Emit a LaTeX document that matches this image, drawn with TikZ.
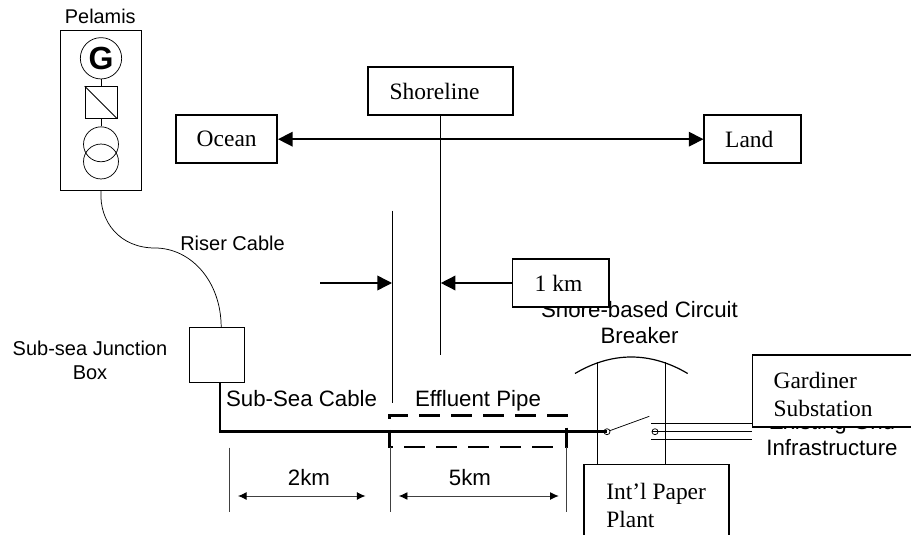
\documentclass[tikz,border=0pt]{standalone}
\usepackage{fontspec}
\setmainfont{Liberation Serif}
\setsansfont{Liberation Sans}
\usetikzlibrary{arrows.meta}
\tikzset{
  x=0.75pt,y=-0.75pt,
  line/.style={draw=black,line width=0.55pt},
  device/.style={draw=black,line width=0.55pt,inner sep=0pt},
  labelbox/.style={draw=black,line width=1.2pt,fill=white,inner sep=0pt,font=\fontsize{17.6}{21}\selectfont},
  sans/.style={font=\sffamily\fontsize{16.7}{19.5}\selectfont,align=center,inner sep=0pt},
  serif/.style={font=\fontsize{17.6}{21}\selectfont,align=left,inner sep=0pt},
  heavy/.style={draw=black,line width=2pt},
  dashline/.style={draw=black,line width=2pt,dash pattern=on 15.75pt off 8.25pt},
  axis/.style={draw=black,line width=1.1pt},
  tick/.style={draw=black!75,line width=0.6pt},
  dim/.style={draw=black!75,line width=0.7pt,{Latex[length=6.5pt,width=6pt,black]}-{Latex[length=6.5pt,width=6pt,black]}},
  point/.style={axis,-{Triangle[length=11pt,width=11pt,black]}},
  twopoint/.style={axis,{Triangle[length=11pt,width=11pt,black]}-{Triangle[length=11pt,width=11pt,black]}}
}
\begin{document}
\begin{tikzpicture}
\useasboundingbox (0,0) rectangle (911,535);
\fill[white] (0,0) rectangle (911,535);
% Pelamis
\node[sans,font=\sffamily\fontsize{14.9}{18}\selectfont,anchor=base] (pl) at (100.3,24) {Pelamis};
\node[device,minimum width=60.3pt,minimum height=120.3pt] (pbox) at (100.85,110.5) {};
\coordinate (pb) at (101,190.7);
\node[device,circle,minimum size=31pt,font=\sffamily\bfseries\fontsize{24}{24}\selectfont] (g) at (101,58.3) {G};
\node[device,minimum size=24pt] (sq) at (101,102.5) {};
\draw[line] (sq.north west) -- (sq.south east);
\node[device,circle,minimum size=26.2pt] (t1) at (101,144.3) {};
\node[device,circle,minimum size=26.2pt] (t2) at (101,161.5) {};
\draw[line] (g) -- (sq);
\draw[line] (sq) -- (t1);
% Riser
\node[device,minimum width=41.3pt,minimum height=41.3pt] (jb) at (217,354.8) {};
\coordinate (jt) at (221.2,327.3);
\draw[line] (pb) .. controls (99,222) and (120,248) .. (155,248) .. controls (190,248) and (221,280) .. (jt);
\node[sans,font=\sffamily\fontsize{15}{18}\selectfont,anchor=base west] (riser) at (180,250) {Riser Cable};
\node[sans,font=\sffamily\fontsize{15}{18}\selectfont] (jl) at (90,360.5) {Sub-sea Junction\\Box};
% Main cable
\coordinate (jbb) at (220,382.3);
\coordinate (sw1) at (607,431.7);
\draw[heavy,line join=miter] (jbb) -- (220,431.7) -- (sw1);
\node[sans,anchor=base west] (ssc) at (225.8,406) {Sub-Sea Cable};
\node[sans,anchor=base] (ep) at (478,406) {Effluent Pipe};
% Dashed pipe
\draw[dashline] (567.5,415.7) -- (389.6,415.7) -- (389.6,447) -- (556,447);
\draw[heavy] (566.8,427.7) -- (566.8,447.7);
% Direction boxes
\node[labelbox,minimum width=75.75pt,minimum height=36pt] (ocean) at (226.7,139.2) {Ocean};
\node[labelbox,minimum width=72.4pt,minimum height=36pt] (land) at (752.5,139.2) {Land\hspace*{4.8pt}};
\draw[twopoint] (ocean) -- (land);
\node[labelbox,minimum width=108.75pt,minimum height=36pt] (shore) at (440.5,91) {Shoreline\hspace*{9pt}};
\coordinate (sb) at (440.3,355);
\draw[axis] (shore.south -| sb) -- (sb);
\coordinate (p1) at (392.4,210.7);
\coordinate (p2) at (392.4,403.3);
\draw[axis] (p1) -- (p2);
\coordinate (al) at (320,283);
\coordinate (ar) at (392,283);
\coordinate (br) at (440.8,283);
\draw[point] (al) -- (ar);
% Dimension lines
\coordinate (d1a) at (229.6,447.7); \coordinate (d1b) at (229.6,511.7);
\coordinate (d2a) at (390.4,447); \coordinate (d2b) at (390.4,511.7);
\coordinate (d3a) at (566.8,447); \coordinate (d3b) at (566.8,511.7);
\draw[tick] (d1a) -- (d1b);
\draw[tick] (d2a) -- (d2b);
\draw[tick] (d3a) -- (d3b);
\coordinate (a1) at (238,496); \coordinate (a2) at (365.5,496);
\coordinate (a3) at (398.8,496); \coordinate (a4) at (558.7,496);
\draw[dim] (a1) -- (a2);
\draw[dim] (a3) -- (a4);
\node[sans,anchor=base] (km2) at (309,485) {2km};
\node[sans,anchor=base] (km5) at (470,485) {5km};
% Breaker
\node[sans] (cb) at (639.5,322.5) {Shore-based Circuit\\Breaker};
\node[labelbox,minimum width=72.4pt,minimum height=36pt] (km) at (560.7,283) {1 km\hspace*{3.3pt}};
\draw[point] (km) -- (br);
\draw[draw=black,line width=0.9pt] (575,373.5) .. controls (612,351.5) and (650.5,351.5) .. (687.7,373.5);
\draw[line] (597.7,362) -- (597.7,464.3);
\draw[line] (665,362) -- (665,464.3);
\node[device,circle,minimum size=4.5pt] (c1) at (607,431.7) {};
\coordinate (c2w) at (651.5,431.7);
\coordinate (arm) at (649.3,416.3);
\draw[line] (c1) -- (arm);
\coordinate (l1) at (752,423.7); \coordinate (l2) at (752,431.7); \coordinate (l3) at (752,439.7);
\draw[line] (651,423.7) -- (l1);
\draw[line] (c2w) -- (l2);
\draw[line] (651,439.7) -- (l3);
\node[device,circle,minimum size=4.5pt] (c2) at (655,431.7) {};
\node[sans] (ex) at (832,434.7) {Existing Grid\\Infrastructure};
\node[labelbox,minimum width=119.5pt,minimum height=54pt] (gs) at (832,391) {};
\node[serif,anchor=west] (gt) at (773.3,394) {Gardiner\\Substation};
\node[labelbox,minimum width=108.5pt,minimum height=60pt] (ip) at (656.6,504.3) {};
\node[serif,anchor=west] (it) at (606,505) {Int’l Paper\\Plant};
\end{tikzpicture}
\end{document}
